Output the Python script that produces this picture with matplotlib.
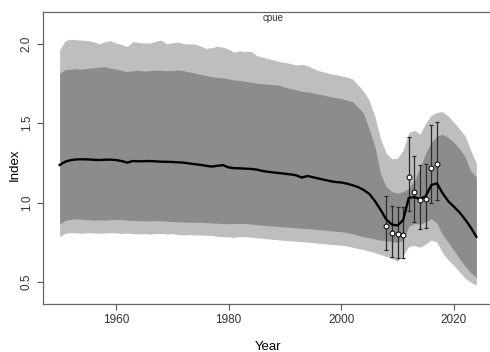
""" cpue index fit with 80/95 intervals """
import numpy as np
import matplotlib
matplotlib.use('Agg')
import matplotlib.pyplot as plt

plt.rcParams['font.family'] = ['Liberation Sans', 'DejaVu Sans']

years = np.arange(1950, 2025)

# fitted index (median)
fit_mid = [1.237, 1.258, 1.268, 1.272, 1.273, 1.272, 1.270, 1.268, 1.270, 1.271,
           1.268, 1.262, 1.252, 1.262, 1.260, 1.261, 1.262, 1.260, 1.258, 1.257,
           1.256, 1.254, 1.252, 1.247, 1.242, 1.238, 1.232, 1.227, 1.232, 1.236,
           1.222, 1.217, 1.216, 1.214, 1.212, 1.208, 1.200, 1.194, 1.190, 1.186,
           1.182, 1.178, 1.172, 1.158, 1.168, 1.160, 1.152, 1.144, 1.136, 1.130,
           1.127, 1.120, 1.110, 1.098, 1.080, 1.055, 1.010, 0.955, 0.895, 0.862,
           0.857, 0.890, 1.030, 1.035, 1.023, 1.040, 1.110, 1.122, 1.060, 1.010,
           0.975, 0.940, 0.895, 0.845, 0.786]

# outer band (95%)
hi95 = [1.960, 2.020, 2.028, 2.024, 2.022, 2.019, 2.012, 1.998, 2.012, 2.019,
        2.003, 1.995, 1.981, 2.013, 2.008, 2.004, 2.003, 2.015, 2.022, 2.000,
        2.005, 2.010, 2.000, 1.998, 1.998, 1.985, 1.970, 1.975, 1.983, 1.978,
        1.965, 1.946, 1.955, 1.950, 1.952, 1.925, 1.915, 1.905, 1.898, 1.887,
        1.882, 1.875, 1.866, 1.870, 1.862, 1.845, 1.830, 1.822, 1.812, 1.805,
        1.798, 1.790, 1.778, 1.740, 1.700, 1.640, 1.540, 1.400, 1.310, 1.275,
        1.280, 1.330, 1.440, 1.455, 1.430, 1.500, 1.550, 1.568, 1.572, 1.545,
        1.505, 1.465, 1.420, 1.330, 1.250]
lo95 = [0.786, 0.808, 0.812, 0.810, 0.808, 0.811, 0.810, 0.808, 0.810, 0.812,
        0.810, 0.806, 0.810, 0.805, 0.804, 0.806, 0.803, 0.805, 0.807, 0.803,
        0.806, 0.800, 0.797, 0.800, 0.796, 0.797, 0.795, 0.794, 0.788, 0.786,
        0.785, 0.782, 0.788, 0.786, 0.783, 0.779, 0.776, 0.772, 0.769, 0.766,
        0.763, 0.760, 0.758, 0.755, 0.752, 0.749, 0.745, 0.742, 0.738, 0.735,
        0.733, 0.728, 0.720, 0.712, 0.704, 0.695, 0.685, 0.674, 0.662, 0.648,
        0.632, 0.670, 0.725, 0.730, 0.720, 0.740, 0.765, 0.752, 0.685, 0.640,
        0.605, 0.565, 0.525, 0.500, 0.482]

# inner band (80%)
hi80 = [1.814, 1.836, 1.840, 1.842, 1.840, 1.845, 1.848, 1.852, 1.856, 1.846,
        1.840, 1.832, 1.824, 1.830, 1.832, 1.828, 1.830, 1.834, 1.832, 1.830,
        1.830, 1.835, 1.830, 1.822, 1.815, 1.806, 1.800, 1.792, 1.788, 1.785,
        1.778, 1.772, 1.768, 1.762, 1.758, 1.752, 1.748, 1.745, 1.742, 1.740,
        1.725, 1.718, 1.710, 1.700, 1.698, 1.690, 1.682, 1.675, 1.667, 1.660,
        1.655, 1.645, 1.635, 1.600, 1.560, 1.460, 1.350, 1.180, 1.100, 1.070,
        1.060, 1.070, 1.090, 1.140, 1.220, 1.310, 1.380, 1.420, 1.430, 1.410,
        1.380, 1.340, 1.290, 1.200, 1.160]
lo80 = [0.866, 0.890, 0.895, 0.898, 0.896, 0.894, 0.890, 0.892, 0.890, 0.893,
        0.896, 0.894, 0.890, 0.889, 0.887, 0.886, 0.885, 0.887, 0.886, 0.884,
        0.882, 0.880, 0.879, 0.877, 0.876, 0.877, 0.875, 0.872, 0.871, 0.869,
        0.868, 0.869, 0.870, 0.869, 0.866, 0.862, 0.858, 0.855, 0.853, 0.850,
        0.847, 0.845, 0.842, 0.839, 0.837, 0.834, 0.831, 0.828, 0.824, 0.820,
        0.818, 0.812, 0.805, 0.795, 0.786, 0.780, 0.772, 0.765, 0.760, 0.755,
        0.750, 0.765, 0.850, 0.870, 0.865, 0.880, 0.900, 0.870, 0.800, 0.750,
        0.700, 0.650, 0.600, 0.560, 0.530]

# observed cpue with error bars
obs_years = np.arange(2008, 2018)
obs = [0.853, 0.807, 0.800, 0.797, 1.160, 1.065, 1.019, 1.021, 1.220, 1.241]
obs_lo = [0.703, 0.660, 0.654, 0.654, 0.950, 0.877, 0.835, 0.839, 1.000, 1.017]
obs_hi = [1.044, 0.981, 0.975, 0.971, 1.411, 1.296, 1.237, 1.243, 1.489, 1.510]

fig = plt.figure(figsize=(4.9, 3.52), dpi=100)
ax = fig.add_axes([43 / 490, 48 / 352, 450 / 490, 292 / 352])

ax.fill_between(years, lo95, hi95, color='#bebebe', lw=0)
ax.fill_between(years, lo80, hi80, color='#8c8c8c', lw=0)

obs = np.array(obs)
yerr = [obs - np.array(obs_lo), np.array(obs_hi) - obs]
ax.errorbar(obs_years, obs, yerr=yerr, fmt='none', ecolor='#2b2b2b',
            elinewidth=0.9, capsize=1.5, capthick=0.9, zorder=3)
ax.plot(years, fit_mid, color='black', lw=1.7, zorder=4)
ax.plot(obs_years, obs, 'o', ms=3.5, mfc='white', mec='black', mew=0.7, zorder=5)

ax.set_xlim(1947.04, 2026.96)
ax.set_ylim(0.363, 2.199)
ax.set_xticks([1960, 1980, 2000, 2020])
ax.set_yticks([0.5, 1.0, 1.5, 2.0])
ax.set_yticklabels(['0.5', '1.0', '1.5', '2.0'], rotation=90, va='center')
ax.tick_params(direction='out', length=4, width=0.8, colors='#555555',
               labelsize=8.5, labelcolor='#333333')
for s in ax.spines.values():
    s.set_color('#666666')
    s.set_linewidth(0.9)

ax.text(0.511, 0.995, 'cpue', transform=ax.transAxes, ha='center', va='top',
        fontsize=7, color='#333333')
fig.text(268 / 490, 1 - 347 / 352, 'Year', ha='center', va='center', fontsize=9.5)
fig.text(15 / 490, 1 - 165 / 352, 'Index', ha='center', va='center',
         rotation=90, fontsize=9.5)

fig.savefig('out.png', dpi=100)
